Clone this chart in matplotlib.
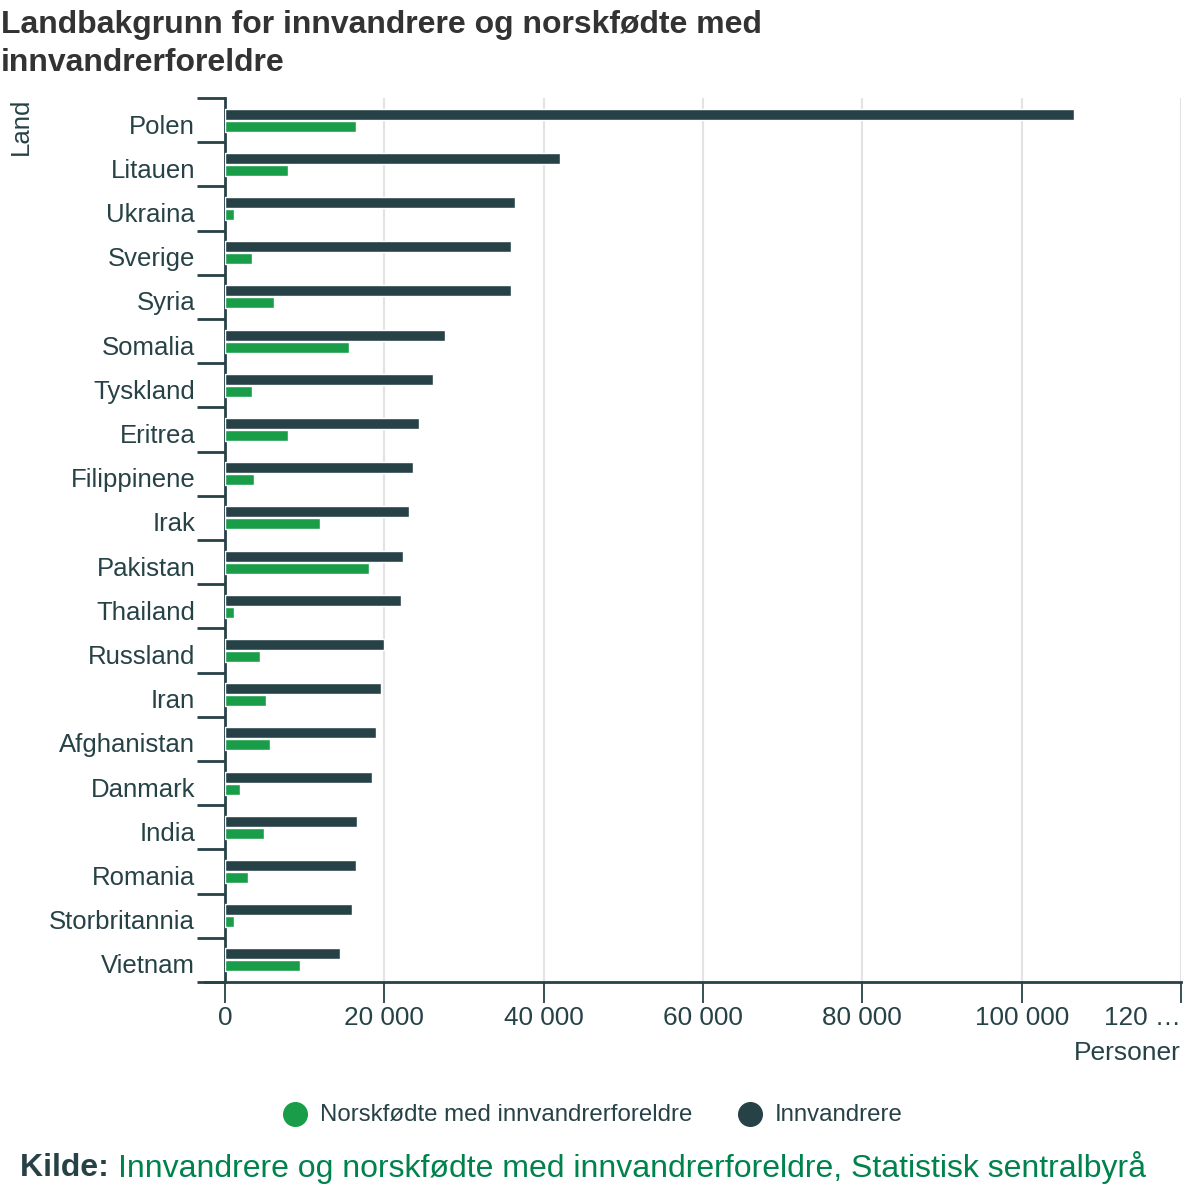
import matplotlib
matplotlib.use('Agg')
import matplotlib.pyplot as plt
import matplotlib.transforms as mtransforms
import numpy as np

plt.rcParams['font.family'] = ['Liberation Sans', 'DejaVu Sans']

countries = ['Polen', 'Litauen', 'Ukraina', 'Sverige', 'Syria', 'Somalia', 'Tyskland',
             'Eritrea', 'Filippinene', 'Irak', 'Pakistan', 'Thailand', 'Russland', 'Iran',
             'Afghanistan', 'Danmark', 'India', 'Romania', 'Storbritannia', 'Vietnam']
innvandrere = [106600, 42100, 36400, 35900, 35900, 27600, 26100, 24400, 23600, 23100,
               22400, 22100, 19900, 19600, 18900, 18400, 16600, 16400, 15900, 14400]
norskfodte = [16400, 7900, 1100, 3400, 6100, 15600, 3400, 7900, 3600, 11900,
              18100, 1100, 4400, 5100, 5600, 1900, 4900, 2900, 1100, 9400]
xticks = [0, 20000, 40000, 60000, 80000, 100000, 120000]
xticklabels = ['0', '20 000', '40 000', '60 000', '80 000', '100 000', '120 …']

DARK = '#274247'
GREEN = '#1a9d49'
TEXT = '#274247'

fig = plt.figure(figsize=(12, 12), dpi=100)
ax = fig.add_axes([0.1875, 0.1817, 0.7967, 0.7366])

y = np.arange(len(countries))
h = 0.25
off = 0.136
ax.barh(y - off, innvandrere, height=h, color=DARK, edgecolor='white', linewidth=1.0, zorder=3)
ax.barh(y + off, norskfodte, height=h, color=GREEN, edgecolor='white', linewidth=1.0, zorder=3)

ax.set_ylim(len(countries) - 0.5, -0.5)
ax.set_xlim(0, 120000)

ax.set_yticks(y)
ax.set_yticklabels(countries, fontsize=18.5, color=TEXT)
ax.set_yticks(np.arange(len(countries) + 1) - 0.5, minor=True)
ax.tick_params(axis='y', which='major', length=0, pad=21.5)
ax.tick_params(axis='y', which='minor', length=20, width=2, color=DARK)
shift = mtransforms.ScaledTranslation(0, -4 / 100, fig.dpi_scale_trans)
for lab in ax.get_yticklabels():
    lab.set_transform(lab.get_transform() + shift)

ax.set_xticks(xticks)
ax.set_xticklabels(xticklabels, fontsize=18.8, color=TEXT)
ax.get_xticklabels()[-1].set_horizontalalignment('right')
ax.tick_params(axis='x', length=15, width=1.3, color=DARK, pad=2)
ax.grid(axis='x', color='#e3e3e3', linewidth=1.5, zorder=0)

for s in ['top', 'right']:
    ax.spines[s].set_visible(False)
ax.spines['left'].set_color(DARK)
ax.spines['left'].set_linewidth(2)
ax.spines['bottom'].set_visible(False)
ax.plot([-20 / 956, 1], [0, 0], transform=ax.transAxes, color=DARK, linewidth=2,
        clip_on=False, zorder=5)

ax.text(-216 / 956, 1.0, 'Land', transform=ax.transAxes, rotation=90, ha='left', va='top',
        fontsize=18.5, color=TEXT)
fig.text(1181 / 1200, 1 - 1053 / 1200, 'Personer', ha='right', va='center', fontsize=19, color=TEXT)

fig.text(1 / 1200, 1 - 25 / 1200, 'Landbakgrunn for innvandrere og norskfødte med',
         ha='left', va='center', fontsize=23, fontweight='bold', color='#333333')
fig.text(1 / 1200, 1 - 63 / 1200, 'innvandrerforeldre',
         ha='left', va='center', fontsize=23, fontweight='bold', color='#333333')

# legend
fig.text(320 / 1200, 1 - 1115 / 1200, 'Norskfødte med innvandrerforeldre', ha='left', va='center',
         fontsize=17.3, color=TEXT)
fig.text(775 / 1200, 1 - 1115 / 1200, 'Innvandrere', ha='left', va='center', fontsize=17.3, color=TEXT)
fig.lines.append(plt.Line2D([295 / 1200], [1 - 1114 / 1200], marker='o', markersize=17,
                            color=GREEN, transform=fig.transFigure))
fig.lines.append(plt.Line2D([750 / 1200], [1 - 1114 / 1200], marker='o', markersize=17,
                            color=DARK, transform=fig.transFigure))

t = fig.text(20 / 1200, 1 - 1168 / 1200, 'Kilde: ', ha='left', va='center', fontsize=23,
             fontweight='bold', color=TEXT)
fig.canvas.draw()
bb = t.get_window_extent()
fig.text(bb.x1 / 1200, 1 - 1168 / 1200,
         'Innvandrere og norskfødte med innvandrerforeldre, Statistisk sentralbyrå',
         ha='left', va='center', fontsize=23, color='#00824d')

plt.savefig('out.png', dpi=100)
